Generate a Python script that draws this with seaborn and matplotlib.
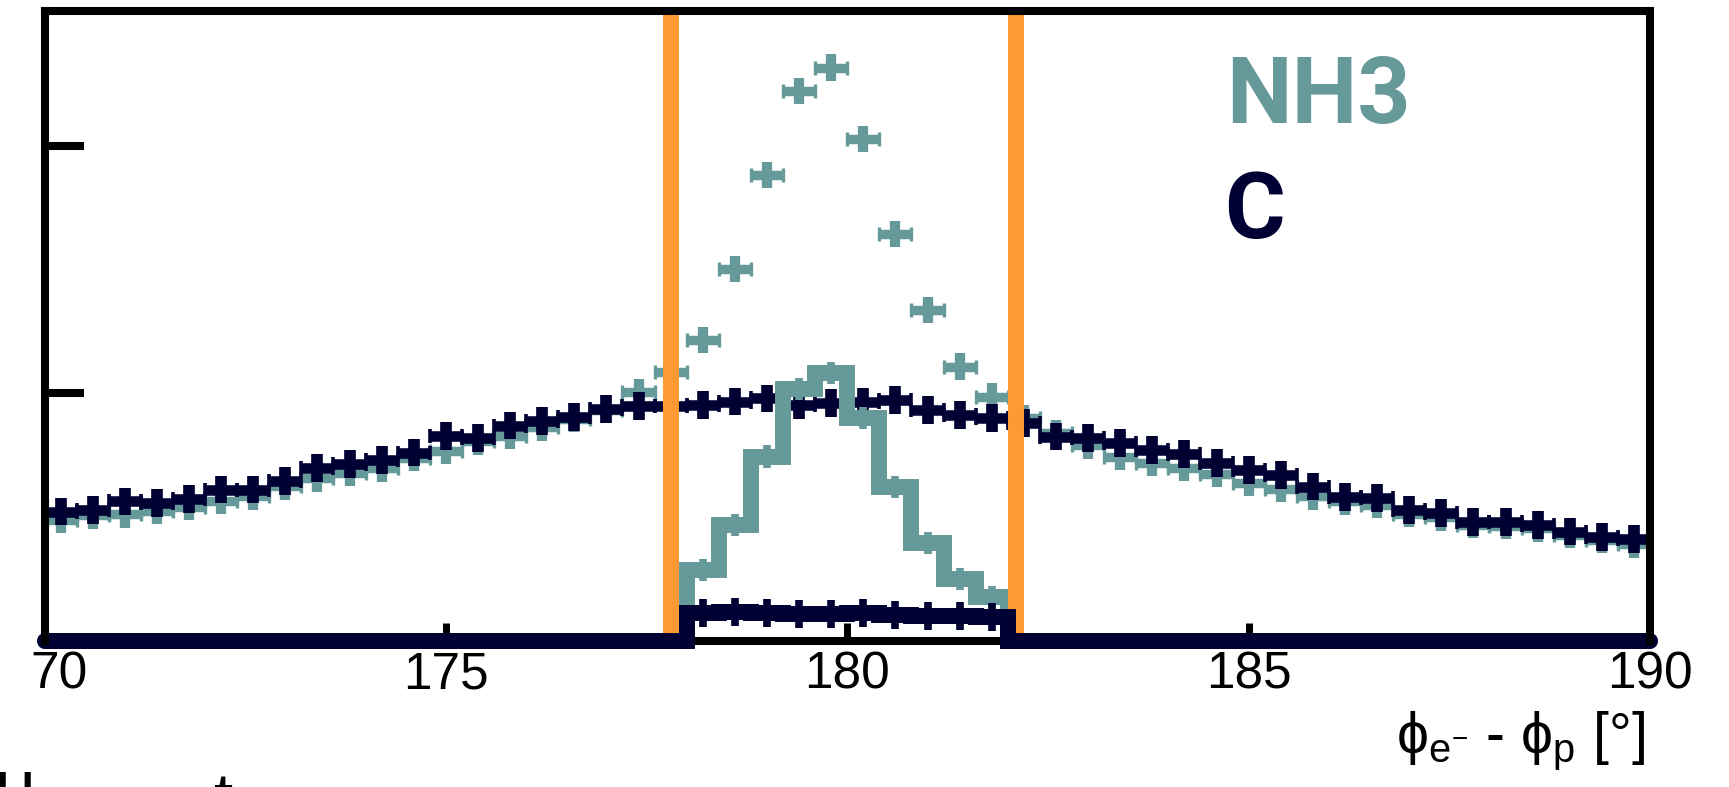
import numpy as np
import pandas as pd
import matplotlib
matplotlib.use("Agg")
import matplotlib.pyplot as plt
import matplotlib.transforms as mtransforms
import seaborn as sns

# ---------------- data ----------------
x_min, x_max = 170.0, 190.0
n_bins = 50
window = (178.0, 182.0)
cut_positions = [177.8, 182.1]

# NH3 target, all events (teal crosses)
nh3_counts = [0.489, 0.507, 0.512, 0.526, 0.543, 0.567, 0.584, 0.625, 0.657, 0.680,
              0.697, 0.741, 0.768, 0.806, 0.829, 0.863, 0.897, 0.934, 1.004, 1.088,
              1.216, 1.503, 1.882, 2.222, 2.316, 2.028, 1.644, 1.337, 1.108, 0.987,
              0.900, 0.840, 0.790, 0.745, 0.720, 0.700, 0.675, 0.640, 0.615, 0.585,
              0.565, 0.550, 0.515, 0.500, 0.470, 0.465, 0.455, 0.430, 0.410, 0.390]
# Carbon target, all events (navy crosses)
c_counts = [0.523, 0.530, 0.564, 0.558, 0.575, 0.612, 0.612, 0.646, 0.700, 0.714,
            0.730, 0.761, 0.829, 0.820, 0.870, 0.888, 0.904, 0.938, 0.950, 0.950,
            0.954, 0.967, 0.980, 0.954, 0.960, 0.967, 0.974, 0.933, 0.913, 0.900,
            0.880, 0.826, 0.819, 0.799, 0.772, 0.756, 0.718, 0.691, 0.671, 0.624,
            0.583, 0.577, 0.529, 0.516, 0.482, 0.482, 0.469, 0.442, 0.421, 0.411]
# events inside the cut window (step histograms)
nh3_cut = [0.287, 0.469, 0.745, 1.018, 1.083, 0.901, 0.622, 0.396, 0.251, 0.178]
c_cut = [0.114, 0.118, 0.114, 0.109, 0.109, 0.112, 0.105, 0.101, 0.101, 0.098]
nh3_err = 0.054
c_err = 0.056
cut_err = 0.045

x_ticks = [170, 175, 180, 185, 190]
x_tick_labels = ["", "175", "180", "185", "190"]
first_label = "70"
y_ticks = [1, 2]
y_max = 2.545
series_labels = ["NH3", "C"]
x_title = "ϕ$_{\\mathregular{e^{-}}}$ - ϕ$_{\\mathregular{p}}$ [°]"
fragments = [("l", -6), ("l", 19), ("t", 214)]

TEAL = "#669999"
NAVY = "#000033"
ORANGE = "#FF9933"

# ---------------- derived tables ----------------
edges = np.linspace(x_min, x_max, n_bins + 1)
centers = 0.5 * (edges[:-1] + edges[1:])
bw = edges[1] - edges[0]
in_win = (centers > window[0]) & (centers < window[1])
nh3_cut_full = np.zeros(n_bins)
nh3_cut_full[in_win] = nh3_cut
c_cut_full = np.zeros(n_bins)
c_cut_full[in_win] = c_cut
df = pd.DataFrame({"phi": centers, "NH3": nh3_counts, "C": c_counts,
                   "NH3_cut": nh3_cut_full, "C_cut": c_cut_full})

# ---------------- style ----------------
sns.set_theme(style="ticks")
plt.rcParams["font.family"] = ["Liberation Sans", "DejaVu Sans"]
plt.rcParams["mathtext.fontset"] = "custom"
plt.rcParams["mathtext.rm"] = "Liberation Sans"
plt.rcParams["mathtext.it"] = "Liberation Sans"

W, H = 1729, 787
fig = plt.figure(figsize=(W / 100, H / 100), dpi=100)
fig.patch.set_facecolor("white")
ax_l, ax_r, ax_b, ax_t = 44.5, 1650.0, 641.0, 11.0
ax = fig.add_axes([ax_l / W, (H - ax_b) / H, (ax_r - ax_l) / W, (ax_b - ax_t) / H])
ax.set_facecolor("white")

# NH3 crosses
ax.errorbar(df["phi"], df["NH3"], xerr=bw / 2, fmt="none", ecolor=TEAL,
            elinewidth=6.8, capsize=4.8, capthick=2.4, zorder=3)
ax.errorbar(df["phi"], df["NH3"], yerr=nh3_err, fmt="none", ecolor=TEAL,
            elinewidth=7.4, capsize=0, zorder=3)
# C crosses
ax.errorbar(df["phi"], df["C"], xerr=bw / 2, fmt="none", ecolor=NAVY,
            elinewidth=7.6, capsize=4.8, capthick=2.6, zorder=4)
ax.errorbar(df["phi"], df["C"], yerr=c_err, fmt="none", ecolor=NAVY,
            elinewidth=8.4, capsize=0, zorder=4)

# NH3 cut histogram
sns.histplot(data=df, x="phi", weights="NH3_cut", bins=n_bins, binrange=(x_min, x_max),
             element="step", fill=False, color=TEAL, linewidth=11.5, ax=ax, zorder=5)
ln = ax.lines[-1]
ln.set_clip_on(False)
ln.set_solid_joinstyle("miter")
ax.errorbar(centers[in_win], nh3_cut, yerr=cut_err, fmt="none", ecolor=TEAL,
            elinewidth=5.5, capsize=0, zorder=5)

# cut lines
for xc in cut_positions:
    ax.axvline(xc, ymin=0, ymax=1, color=ORANGE, lw=11.5, zorder=6)

# C cut histogram
sns.histplot(data=df, x="phi", weights="C_cut", bins=n_bins, binrange=(x_min, x_max),
             element="step", fill=False, color=NAVY, linewidth=11.5, ax=ax, zorder=7)
ln = ax.lines[-1]
ln.set_clip_on(False)
ln.set_solid_joinstyle("miter")
ax.errorbar(centers[in_win], c_cut, yerr=c_err, fmt="none", ecolor=NAVY,
            elinewidth=5.5, capsize=0, zorder=7)

# ---------------- axes ----------------
ax.set_xlim(x_min, x_max)
ax.set_ylim(0, y_max)
ax.set_xlabel("")
ax.set_ylabel("")
ax.set_xticks(x_ticks)
ax.set_xticklabels(x_tick_labels, fontsize=37, color="black")
ax.set_yticks(y_ticks)
ax.set_yticklabels([])
ax.minorticks_off()
ax.tick_params(axis="x", direction="in", length=13, width=5, pad=7, colors="black")
ax.tick_params(axis="y", direction="in", length=28, width=5.8, colors="black")
for name, sp in ax.spines.items():
    sp.set_visible(True)
    sp.set_linewidth(5.8)
    sp.set_color("black")
    sp.set_zorder(10 if name != "bottom" else 2)

# cut-off first tick label
ax.text(x_ticks[0], 0, first_label, ha="left", va="top", fontsize=37, color="black",
        transform=mtransforms.blended_transform_factory(ax.transData, ax.transAxes)
        + mtransforms.ScaledTranslation(-14 / 100, -7 / 72, fig.dpi_scale_trans),
        clip_on=False)

# axis title
fig.text(1645 / W, (H - 753) / H, x_title, ha="right", va="baseline",
         fontsize=41, color="black")

# series labels
fig.text(1226 / W, (H - 122.7) / H, series_labels[0], color=TEAL, fontsize=67,
         fontweight="bold", family=["Roboto", "DejaVu Sans"], va="baseline")
fig.text(1224 / W, (H - 238) / H, series_labels[1], color=NAVY, fontsize=67,
         fontweight="bold", family=["Roboto", "DejaVu Sans"], va="baseline")

# text fragments cut by the lower edge
for s, px in fragments:
    fig.text(px / W, (H - 822) / H, s, fontsize=50, color="black", va="baseline")

fig.savefig("out.png", dpi=100)
